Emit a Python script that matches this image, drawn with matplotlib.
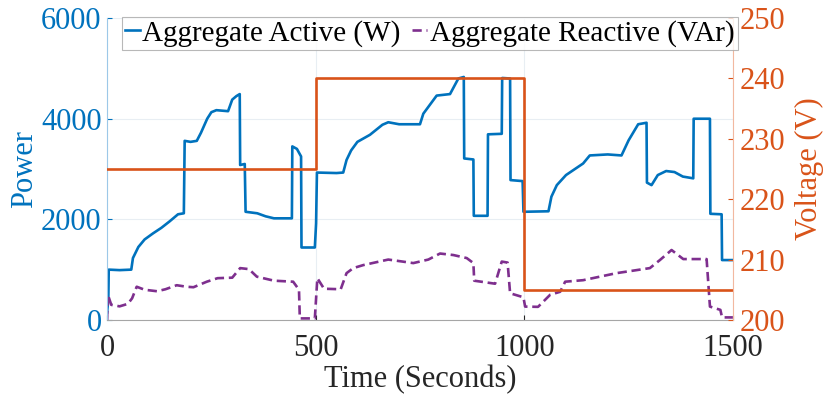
import matplotlib
matplotlib.use("Agg")
import matplotlib.pyplot as plt

# Aggregate active power (W)
active_t = [0, 3, 4, 30, 58, 62, 75, 90, 110, 130, 150, 170, 184, 186, 200, 215, 225, 240,
            250, 262, 290, 300, 310, 318, 319, 330, 332, 360, 380, 400, 443, 444, 455, 465,
            466, 498, 501, 503, 550, 566, 574, 585, 600, 630, 660, 674, 700, 750, 758, 790,
            822, 842, 855, 856, 878, 879, 912, 913, 946, 947, 966, 967, 996, 998, 1058, 1065,
            1078, 1100, 1141, 1157, 1200, 1233, 1250, 1273, 1293, 1294, 1305, 1320, 1340,
            1360, 1380, 1405, 1406, 1445, 1446, 1473, 1474, 1500]
active_w = [150, 400, 1000, 990, 1000, 1230, 1450, 1600, 1720, 1830, 1960, 2100, 2120, 3560,
            3540, 3560, 3720, 4000, 4130, 4170, 4150, 4380, 4450, 4490, 3080, 3100, 2150, 2120,
            2060, 2020, 2020, 3450, 3400, 3250, 1440, 1440, 1920, 2930, 2920, 2930, 3180, 3370,
            3540, 3680, 3880, 3930, 3890, 3890, 4100, 4460, 4490, 4800, 4830, 3210, 3190, 2070,
            2070, 3690, 3700, 4810, 4800, 2780, 2760, 2150, 2160, 2450, 2680, 2880, 3110, 3270,
            3290, 3270, 3570, 3890, 3920, 2730, 2680, 2880, 2960, 2940, 2850, 2815, 4000, 4000,
            2110, 2100, 1190, 1190]

# Aggregate reactive power (VAr)
reactive_t = [0, 2, 10, 30, 50, 60, 71, 90, 120, 140, 167, 190, 207, 239, 265, 300, 319, 340,
              359, 400, 446, 460, 462, 498, 504, 520, 560, 574, 590, 614, 674, 734, 770, 798,
              830, 862, 878, 880, 930, 946, 960, 966, 998, 1002, 1033, 1062, 1086, 1098, 1141,
              1221, 1301, 1325, 1353, 1381, 1437, 1445, 1470, 1474, 1500]
reactive_var = [0, 500, 300, 270, 320, 430, 660, 600, 570, 610, 690, 660, 650, 760, 830, 840,
                1030, 1010, 860, 780, 760, 600, 30, 30, 830, 620, 610, 930, 1030, 1090, 1200,
                1130, 1200, 1320, 1290, 1230, 1130, 780, 720, 1160, 1140, 530, 450, 265, 260,
                500, 560, 760, 790, 930, 1030, 1190, 1390, 1210, 1210, 265, 200, 50, 50]

# Voltage steps (V)
volt_t = [0, 500, 1000, 1500]
volt_v = [225, 240, 205, 205]

blue = "#0072BD"
orange = "#D95319"
purple = "#7E2F8E"

plt.rcParams["font.family"] = ["Liberation Serif", "DejaVu Serif"]

fig = plt.figure(figsize=(8.3, 3.94), dpi=100)
ax = fig.add_axes([0.129, 0.188, 0.754, 0.766])
ax2 = ax.twinx()

l1, = ax.plot(active_t, active_w, color=blue, lw=1.9, label="Aggregate Active (W)")
l2, = ax.plot(reactive_t, reactive_var, color=purple, lw=1.9, dashes=(3.5, 1.8),
              label="Aggregate Reactive (VAr)")
ax2.plot(volt_t, volt_v, color=orange, lw=1.9, drawstyle="steps-post")

ax.set_xlim(0, 1500)
ax.set_ylim(0, 6000)
ax2.set_ylim(200, 250)
ax.set_xticks([0, 500, 1000, 1500])
ax.set_yticks([0, 2000, 4000, 6000])
ax2.set_yticks([200, 210, 220, 230, 240, 250])

ax.grid(True, color="#E8EEF3", lw=0.8)
ax.set_axisbelow(True)

fs = 22
ax.tick_params(axis="x", direction="in", labelsize=fs, colors="#262626", length=3.6, pad=10)
ax.tick_params(axis="y", direction="in", labelsize=fs, colors=blue, length=3.6, pad=4)
ax2.tick_params(axis="y", direction="in", labelsize=fs, colors=orange, length=3.6, pad=4.5)
for a in (ax, ax2):
    a.spines["top"].set_visible(False)
ax.spines["left"].set_color("#9CC8E8")
ax.spines["bottom"].set_color("#A6A6A6")
ax2.spines["right"].set_color("#F2B8A0")
ax2.spines["left"].set_visible(False)
ax2.spines["bottom"].set_visible(False)
ax.spines["right"].set_visible(False)

ax.set_xlabel("Time (Seconds)", fontsize=fs, color="#262626", labelpad=1.5)
ax.set_ylabel("Power", fontsize=fs, color=blue, labelpad=1)
ax2.set_ylabel("Voltage (V)", fontsize=fs, color=orange, labelpad=7)

leg = ax2.legend([l1, l2], [l1.get_label(), l2.get_label()], ncol=2, fontsize=21,
                 loc="upper left", bbox_to_anchor=(122 / 830, 1 - 17 / 394),
                 bbox_transform=fig.transFigure, frameon=True, fancybox=False,
                 handlelength=0.5, handletextpad=0.1, columnspacing=0.4,
                 borderpad=0.1, borderaxespad=0)
leg.get_frame().set_edgecolor("#A6A6A6")
leg.get_frame().set_linewidth(0.8)

fig.savefig("out.png", dpi=100)
